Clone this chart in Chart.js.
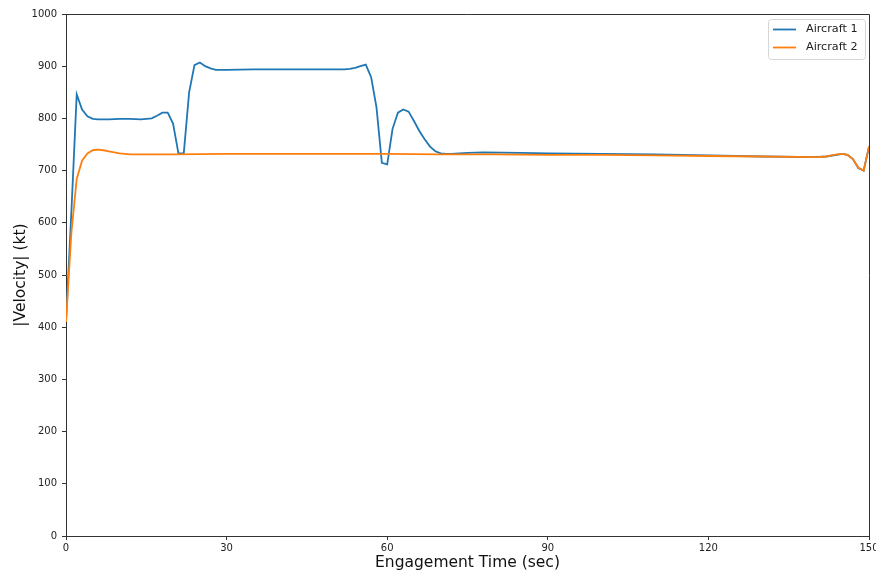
<!DOCTYPE html>
<html>
<head>
<meta charset="utf-8">
<script src="https://cdn.jsdelivr.net/npm/chart.js@4/dist/chart.umd.min.js"></script>
<style>
  html, body { margin: 0; padding: 0; background: #fff; }
  #wrap { width: 876px; height: 575px; }
</style>
</head>
<body>
<div id="wrap"><canvas id="myLineChart" width="876" height="575"></canvas></div>
<script>
  // time (sec) and |velocity| (kt)
  var time1 = [0,1,2,3,4,5,6,8,10,12,14,15,16,17,18,19,20,21,22,23,24,25,26,27,28,30,35,40,45,50,52,53,54,55,56,57,58,59,60,61,62,63,64,65,66,67,68,69,70,71,72,75,78,85,90,100,110,120,130,140,142,144,145,146,147,148,149,150];
  var vel1 = [410,620,846,817,804,799,798,798,799,799,798,799,800,805,811,811,790,733,733,850,902,907,900,896,893,893,894,894,894,894,894,895,897,900,903,879,821,715,712,780,811,817,813,795,776,760,746,737,733,732,732,734,735,734,733,732,731,729,727,726,727,730,732,730,722,705,700,746];
  var time2 = [0,1,2,3,4,5,6,7,8,9,10,11,12,13,15,20,30,40,50,60,70,80,90,100,110,120,130,140,142,143,144,145,146,147,148,149,150];
  var vel2 = [410,580,684,719,733,739,740,739,737,735,733,732,731,731,731,731,732,732,732,732,731,731,730,730,729,728,727,726,727,729,731,732,730,722,706,700,746];
  var seriesNames = ['Aircraft 1', 'Aircraft 2'];
  var xTicks = [0, 30, 60, 90, 120, 150];

  function pairs(xs, ys) {
      return xs.map(function (x, i) { return { x: x, y: ys[i] }; });
  }

  var font = 'DejaVu Sans';

  // frame (top/right spines) + matplotlib-style legend box
  var framePlugin = {
      id: 'frame',
      afterDatasetsDraw: function (chart) {
          var ctx = chart.ctx, a = chart.chartArea;
          ctx.save();
          ctx.strokeStyle = '#333';
          ctx.lineWidth = 1;
          ctx.beginPath();
          ctx.moveTo(a.left, a.top + 0.5);
          ctx.lineTo(a.right + 0.5, a.top + 0.5);
          ctx.lineTo(a.right + 0.5, a.bottom);
          ctx.stroke();

          // legend
          var bx = 768, by = 19.5, bw = 97, bh = 40;
          ctx.fillStyle = 'rgba(255,255,255,0.8)';
          ctx.strokeStyle = '#d6d6d6';
          ctx.beginPath();
          ctx.roundRect(bx + 0.5, by, bw, bh, 3);
          ctx.fill();
          ctx.stroke();
          ctx.font = '11.2px ' + font;
          ctx.textBaseline = 'middle';
          chart.data.datasets.forEach(function (ds, i) {
              var y = by + 10 + i * 18;
              ctx.strokeStyle = ds.borderColor;
              ctx.lineWidth = 1.8;
              ctx.beginPath();
              ctx.moveTo(bx + 5, y);
              ctx.lineTo(bx + 28, y);
              ctx.stroke();
              ctx.fillStyle = '#222';
              ctx.fillText(ds.label, bx + 38, y);
          });
          ctx.restore();
      }
  };

  var ctxLine = document.getElementById('myLineChart').getContext('2d');
  var lineChart = new Chart(ctxLine, {
      type: 'line',
      data: {
          datasets: [{
              label: seriesNames[0],
              data: pairs(time1, vel1),
              borderColor: '#1f77b4',
              borderWidth: 1.8,
              pointRadius: 0,
              tension: 0,
              fill: false,
              order: 1
          }, {
              label: seriesNames[1],
              data: pairs(time2, vel2),
              borderColor: '#ff7f0e',
              borderWidth: 1.8,
              pointRadius: 0,
              tension: 0,
              fill: false,
              order: 0
          }]
      },
      options: {
          responsive: false,
          animation: false,
          layout: { padding: { left: 0, right: 7, top: 14, bottom: 0 } },
          plugins: {
              legend: { display: false },
              tooltip: { enabled: false }
          },
          scales: {
              x: {
                  type: 'linear',
                  min: 0,
                  max: 150,
                  afterBuildTicks: function (scale) {
                      scale.ticks = xTicks.map(function (v) { return { value: v }; });
                  },
                  afterFit: function (scale) {
                      scale.height = 39;
                      scale.paddingLeft = 0;
                      scale.paddingRight = 0;
                  },
                  grid: { drawOnChartArea: false, drawTicks: true, tickLength: 4, color: '#333' },
                  border: { display: true, color: '#333', width: 1 },
                  ticks: { color: '#222', padding: 2, maxRotation: 0, font: { family: font, size: 10 } },
                  title: {
                      display: true,
                      text: 'Engagement Time (sec)',
                      color: '#111',
                      padding: { top: 0, bottom: 3 },
                      font: { family: font, size: 15.5 }
                  }
              },
              y: {
                  min: 0,
                  max: 1000,
                  afterFit: function (scale) {
                      scale.width = 66;
                      scale.paddingTop = 0;
                      scale.paddingBottom = 0;
                  },
                  grid: { drawOnChartArea: false, drawTicks: true, tickLength: 4, color: '#333' },
                  border: { display: true, color: '#333', width: 1 },
                  ticks: {
                      stepSize: 100,
                      color: '#222',
                      padding: 5,
                      font: { family: font, size: 10 },
                      callback: function (v) { return String(v); }
                  },
                  title: {
                      display: true,
                      text: '|Velocity| (kt)',
                      color: '#111',
                      padding: { top: 12, bottom: 0 },
                      font: { family: font, size: 15.5 }
                  }
              }
          }
      },
      plugins: [framePlugin]
  });
</script>
</body>
</html>
